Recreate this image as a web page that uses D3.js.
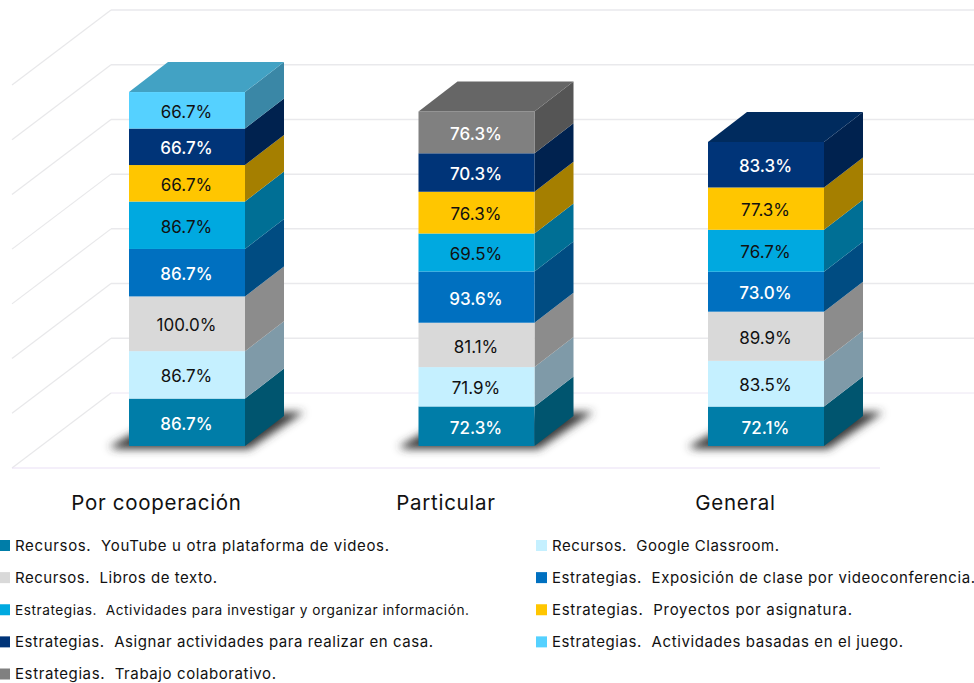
<!DOCTYPE html>
<html lang="es">
<head>
<meta charset="utf-8">
<script src="https://cdn.jsdelivr.net/npm/d3@7"></script>
<style>
  html, body { margin: 0; padding: 0; background: #fff; overflow: hidden; }
  svg { display: block; }
  svg text { font-family: Inter, "Open Sans", Arial, sans-serif; }
</style>
</head>
<body>
<svg id="chart" width="974" height="683" role="img" aria-label="Barras apiladas 3D de recursos y estrategias por tipo de escuela"></svg>
<script>
const categories = ["Por cooperación", "Particular", "General"];
const seriesNames = [
  "Recursos.  YouTube u otra plataforma de videos.",
  "Recursos.  Google Classroom.",
  "Recursos.  Libros de texto.",
  "Estrategias.  Exposición de clase por videoconferencia.",
  "Estrategias.  Actividades para investigar y organizar información.",
  "Estrategias.  Proyectos por asignatura.",
  "Estrategias.  Asignar actividades para realizar en casa.",
  "Estrategias.  Actividades basadas en el juego.",
  "Estrategias.  Trabajo colaborativo."
];
// bottom to top, one array per school type; 0 = series not present
const porCooperacion = [86.7, 86.7, 100.0, 86.7, 86.7, 66.7, 66.7, 66.7, 0];
const particular = [72.3, 71.9, 81.1, 93.6, 69.5, 76.3, 70.3, 0, 76.3];
const general = [72.1, 83.5, 89.9, 73.0, 76.7, 77.3, 83.3, 0, 0];
const valueRows = [porCooperacion, particular, general];
const gridTicks = [0, 100, 200, 300, 400, 500, 600, 700];

const frontColors = ["#007da8", "#c5f0ff", "#d9d9d9", "#0070c0", "#00a9e0", "#ffc600", "#003478", "#55d1ff", "#808080"];
const sideColors = ["#00556f", "#7f9aa8", "#8c8c8c", "#004c82", "#006f95", "#a57f00", "#00224f", "#3a87a6", "#555555"];
const topColors = ["#006a8c", "#a0c4d2", "#b0b0b0", "#005c9e", "#008bb8", "#d0a200", "#002b5e", "#42a2c4", "#666666"];
const labelColors = ["#fff", "#111", "#111", "#fff", "#111", "#111", "#fff", "#111", "#fff"];

const barW = 116;
const depthX = 39;
const depthY = -30;
const backDy = -53;
const wallDx = -99;
const wallDy = 75;

const svg = d3.select("#chart");

const x = d3.scalePoint().domain(categories).range([187, 766]);
const y = d3.scaleLinear().domain([0, 700]).range([446, 63]);

const stackData = categories.map(function(c, i) {
  const row = { category: c };
  seriesNames.forEach(function(s, j) { row[s] = valueRows[i][j]; });
  return row;
});
const stacked = d3.stack().keys(seriesNames)(stackData);

const defs = svg.append("defs");
defs.append("filter").attr("id", "shadowBlur")
  .attr("x", "-20%").attr("y", "-60%").attr("width", "140%").attr("height", "220%")
  .append("feGaussianBlur").attr("stdDeviation", 4.5);

// walls and floor
const grid = svg.append("g").attr("fill", "none");
const backRight = 974;
const backLeft = 111;
grid.selectAll("line.back")
  .data(gridTicks)
  .join("line")
  .attr("class", "back")
  .attr("x1", backLeft)
  .attr("x2", backRight)
  .attr("y1", function(d) { return y(d) + backDy; })
  .attr("y2", function(d) { return y(d) + backDy; })
  .attr("stroke", function(d) { return d === 0 ? "#ece6f3" : "#e9e9ec"; })
  .attr("stroke-width", function(d) { return d === 0 ? 1 : 1.5; });
grid.selectAll("line.wall")
  .data(gridTicks)
  .join("line")
  .attr("class", "wall")
  .attr("x1", backLeft)
  .attr("x2", backLeft + wallDx)
  .attr("y1", function(d) { return y(d) + backDy; })
  .attr("y2", function(d) { return y(d) + backDy + wallDy; })
  .attr("stroke", "#e8e8ea")
  .attr("stroke-width", 1.2);
grid.append("line")
  .attr("x1", backLeft + wallDx).attr("x2", 880)
  .attr("y1", y(0) + backDy + wallDy).attr("y2", y(0) + backDy + wallDy)
  .attr("stroke", "#eadff5").attr("stroke-width", 1.2);

// floor shadows
svg.append("g").selectAll("polygon")
  .data(categories)
  .join("polygon")
  .attr("points", function(c) {
    const l = x(c) - barW / 2;
    const r = x(c) + barW / 2;
    return [
      [l - 20, y(0) + 1], [l + 10, y(0) - 16],
      [r + depthX, y(0) + depthY - 4], [r + depthX + 20, y(0) + depthY - 4],
      [r + 4, y(0) + 3], [l - 10, y(0) + 3]
    ].join(" ");
  })
  .attr("fill", "#3a3a3a")
  .attr("filter", "url(#shadowBlur)");

// stacked boxes
const bars = svg.append("g");
stacked.forEach(function(layer, j) {
  const g = bars.append("g");
  const present = layer.filter(function(d) { return d[1] > d[0]; });

  g.selectAll("polygon.side")
    .data(present)
    .join("polygon")
    .attr("class", "side")
    .attr("fill", sideColors[j])
    .attr("points", function(d) {
      const r = x(d.data.category) + barW / 2;
      return [
        [r, y(d[0])], [r + depthX, y(d[0]) + depthY],
        [r + depthX, y(d[1]) + depthY], [r, y(d[1])]
      ].join(" ");
    });

  g.selectAll("rect")
    .data(present)
    .join("rect")
    .attr("x", function(d) { return x(d.data.category) - barW / 2; })
    .attr("y", function(d) { return y(d[1]); })
    .attr("width", barW)
    .attr("height", function(d) { return y(d[0]) - y(d[1]); })
    .attr("fill", frontColors[j]);

  // lid only on the topmost segment of each column
  g.selectAll("polygon.lid")
    .data(present.filter(function(d) {
      return d[1] === d3.sum(valueRows[categories.indexOf(d.data.category)]);
    }))
    .join("polygon")
    .attr("class", "lid")
    .attr("fill", topColors[j])
    .attr("points", function(d) {
      const l = x(d.data.category) - barW / 2;
      const r = l + barW;
      const t = y(d[1]);
      return [
        [l, t], [r, t], [r + depthX, t + depthY], [l + depthX, t + depthY]
      ].join(" ");
    });

  g.selectAll("text")
    .data(present)
    .join("text")
    .attr("x", function(d) { return x(d.data.category) - 0.5; })
    .attr("y", function(d) { return (y(d[0]) + y(d[1])) / 2 + 1.5; })
    .attr("dy", "0.36em")
    .attr("text-anchor", "middle")
    .attr("font-size", 17)
    .attr("font-weight", labelColors[j] === "#fff" ? 500 : 400)
    .attr("fill", labelColors[j])
    .text(function(d) { return (d[1] - d[0]).toFixed(1) + "%"; });
});

// category labels sit on the front floor edge, so shifted left of the boxes
svg.append("g").selectAll("text")
  .data(categories)
  .join("text")
  .attr("x", function(c) { return x(c) - 30.5; })
  .attr("y", 510)
  .attr("text-anchor", "middle")
  .attr("font-size", 20.5)
  .attr("letter-spacing", 0.7)
  .attr("fill", "#111")
  .text(function(c) { return c; });

// legend: two columns filled row by row
const legendOrder = [0, 1, 2, 3, 4, 5, 6, 7, 8];
const legendColX = [-1, 536];
const legendRowY = d3.scaleLinear().domain([0, 4]).range([545.5, 674]);
const legendWidths = [374, 227, 202, 423, 454, 300, 418, 351, 261];
const legendSizes = [15, 15, 15, 15, 13.7, 15, 15, 15, 15];

const legend = svg.append("g").selectAll("g")
  .data(legendOrder)
  .join("g")
  .attr("transform", function(i) {
    return "translate(" + legendColX[i % 2] + "," + legendRowY(Math.floor(i / 2)) + ")";
  });
legend.append("rect")
  .attr("x", 0).attr("y", -5.5).attr("width", 11).attr("height", 11)
  .attr("fill", function(i) { return frontColors[i]; });
legend.append("text")
  .attr("x", function(i) { return i % 2 ? 16 : 16; })
  .attr("dy", "0.36em")
  .attr("font-size", function(i) { return legendSizes[i]; })
  .attr("textLength", function(i) { return legendWidths[i]; })
  .attr("lengthAdjust", "spacing")
  .style("white-space", "pre")
  .attr("fill", "#111")
  .text(function(i) { return seriesNames[i]; });
</script>
</body>
</html>
